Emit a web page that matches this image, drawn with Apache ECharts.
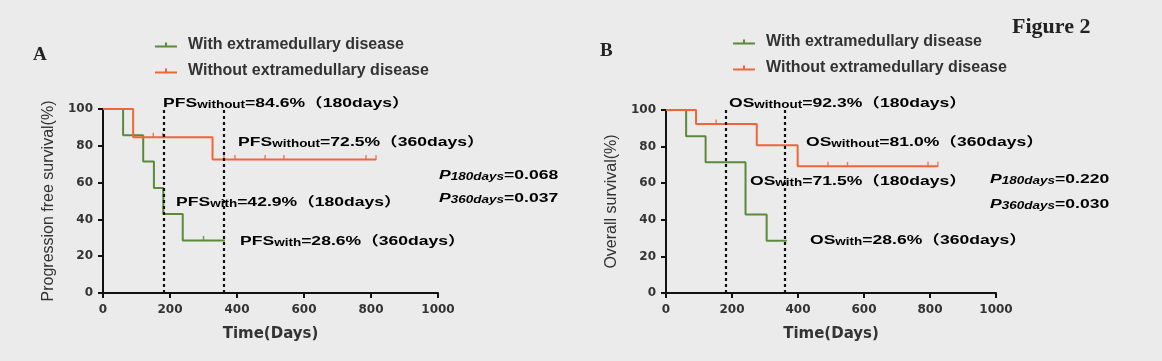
<!DOCTYPE html>
<html><head><meta charset="utf-8">
<script src="https://cdn.jsdelivr.net/npm/echarts@6/dist/echarts.min.js"></script>
<style>html,body{margin:0;padding:0;background:#ebebeb;}#c{width:1162px;height:361px;}</style>
</head><body><div id="c"></div>
<script>
// ---- Data ----
const seriesNames = ['With extramedullary disease', 'Without extramedullary disease'];
const xTicks = [0, 200, 400, 600, 800, 1000];
const yTicks = [0, 20, 40, 60, 80, 100];
const landmarkDays = [180, 360];

// Panel A: progression free survival
const pfsWithTimes = [0, 60, 120, 152, 180, 238, 364];
const pfsWithValues = [100, 85.7, 71.4, 57.1, 42.9, 28.6, 28.6];
const pfsWithCensorTimes = [300];
const pfsWithCensorValues = [28.6];
const pfsWithoutTimes = [0, 90, 327, 815];
const pfsWithoutValues = [100, 84.6, 72.5, 72.5];
const pfsWithoutCensorTimes = [150, 178, 361, 394, 484, 540, 785, 815];
const pfsWithoutCensorValues = [84.6, 84.6, 72.5, 72.5, 72.5, 72.5, 72.5, 72.5];

// Panel B: overall survival
const osWithTimes = [0, 61, 120, 241, 305, 366];
const osWithValues = [100, 85.7, 71.4, 42.9, 28.6, 28.6];
const osWithCensorTimes = [];
const osWithCensorValues = [];
const osWithoutTimes = [0, 91, 275, 399, 824];
const osWithoutValues = [100, 92.3, 80.8, 69.2, 69.2];
const osWithoutCensorTimes = [152, 491, 550, 794, 824];
const osWithoutCensorValues = [92.3, 69.2, 69.2, 69.2, 69.2];

// annotation texts
const pfsLabels = [
  ['PFS', 'without', '=84.6%（180days）'],
  ['PFS', 'without', '=72.5%（360days）'],
  ['PFS', 'with', '=42.9%（180days）'],
  ['PFS', 'with', '=28.6%（360days）']
];
const osLabels = [
  ['OS', 'without', '=92.3%（180days）'],
  ['OS', 'without', '=81.0%（360days）'],
  ['OS', 'with', '=71.5%（180days）'],
  ['OS', 'with', '=28.6%（360days）']
];
const pfsPValues = [['180days', '=0.068'], ['360days', '=0.037']];
const osPValues = [['180days', '=0.220'], ['360days', '=0.030']];

// ---- Styles ----
const GREEN = '#5a8a3a';
const RED = '#f0653a';
const FONT = '"Liberation Sans", Arial, "Noto Sans CJK SC", sans-serif';
const WIDE = '"DejaVu Sans", Verdana, sans-serif';
const SERIF = '"Liberation Serif", "Times New Roman", serif';
const STRETCH = 1.35;
const zip = (a, b) => a.map((v, i) => [v, b[i]]);

function axisPair(gi, yName) {
  const common = {
    gridIndex: gi, type: 'value', min: 0,
    axisLine: { show: true, lineStyle: { color: '#111', width: 2 } },
    axisTick: { show: true, inside: false, length: 5, lineStyle: { color: '#111', width: 2 } },
    splitLine: { show: false },
    axisLabel: { color: '#333', fontFamily: WIDE, fontWeight: 'bold', fontSize: 12, formatter: v => String(v) }
  };
  return {
    x: Object.assign({}, common, { max: 1000, interval: 200, name: 'Time(Days)', nameLocation: 'middle', nameGap: 34,
      axisLabel: Object.assign({}, common.axisLabel, { margin: 11 }),
      nameTextStyle: { color: '#333', fontFamily: WIDE, fontWeight: 'bold', fontSize: 15 } }),
    y: Object.assign({}, common, { max: 100, interval: 20, name: yName, nameLocation: 'middle', nameGap: 46, nameRotate: 90,
      axisLabel: Object.assign({}, common.axisLabel, { margin: 10 }),
      nameTextStyle: { color: '#333', fontFamily: FONT, fontSize: 16 } })
  };
}
const axA = axisPair(0, 'Progression free survival(%)');
const axB = axisPair(1, 'Overall survival(%)');

function kmSeries(name, gi, times, values, color) {
  return {
    name, type: 'line', xAxisIndex: gi, yAxisIndex: gi, step: 'end',
    data: zip(times, values), showSymbol: false, symbol: 'none',
    lineStyle: { color, width: 2 }, itemStyle: { color }, z: 3, silent: true
  };
}
function censorSeries(name, gi, times, values, color) {
  return {
    name, type: 'scatter', xAxisIndex: gi, yAxisIndex: gi,
    data: zip(times, values), symbol: 'rect', symbolSize: [1.5, 5], symbolOffset: [0, -2],
    itemStyle: { color }, z: 4, silent: true
  };
}
function landmarkSeries(gi) {
  return {
    type: 'line', xAxisIndex: gi, yAxisIndex: gi, data: [], silent: true,
    markLine: {
      symbol: 'none', silent: true, label: { show: false },
      lineStyle: { color: '#111', type: [3, 3], width: 2.2 },
      data: landmarkDays.map(d => [{ coord: [d, 0] }, { coord: [d, 100] }])
    }
  };
}

const rich = {
  m: { fontFamily: FONT, fontWeight: 'bold', fontSize: 13, color: '#333', lineHeight: 16 },
  s: { fontFamily: FONT, fontWeight: 'bold', fontSize: 10, color: '#333', lineHeight: 16, padding: [4, 0, 0, 0] },
  pm: { fontFamily: FONT, fontWeight: 'bold', fontStyle: 'italic', fontSize: 13, color: '#333', lineHeight: 16 },
  ps: { fontFamily: FONT, fontWeight: 'bold', fontStyle: 'italic', fontSize: 10, color: '#333', lineHeight: 16, padding: [4, 0, 0, 0] }
};
function annText(parts, x, y) {
  return { type: 'text', x: x, y: y, scaleX: STRETCH, z: 10,
    style: { text: '{m|' + parts[0] + '}{s|' + parts[1] + '}{m|' + parts[2] + '}', rich, verticalAlign: 'middle' } };
}
function pText(parts, x, y) {
  return { type: 'text', x: x, y: y, scaleX: STRETCH, z: 10,
    style: { text: '{pm|P}{ps|' + parts[0] + '}{m|' + parts[1] + '}', rich, verticalAlign: 'middle' } };
}

const legendCommon = {
  orient: 'vertical', itemWidth: 22, itemHeight: 8, itemGap: 10, padding: 0,
  icon: 'path://M0,3h22v2h-22z M10,0h2v3h-2z',
  textStyle: { fontFamily: FONT, fontSize: 16, fontWeight: 'bold', color: '#333', padding: [0, 0, 0, 6] },
  data: seriesNames, selectedMode: false
};

const option = {
  backgroundColor: '#ebebeb',
  animation: false,
  legend: [
    Object.assign({}, legendCommon, { left: 155, top: 37 }),
    Object.assign({}, legendCommon, { left: 733, top: 34 })
  ],
  grid: [
    { left: 103, right: 724, top: 109, bottom: 68 },
    { left: 666, right: 166, top: 110, bottom: 68 }
  ],
  xAxis: [axA.x, axB.x],
  yAxis: [axA.y, axB.y],
  series: [
    landmarkSeries(0),
    kmSeries(seriesNames[0], 0, pfsWithTimes, pfsWithValues, GREEN),
    kmSeries(seriesNames[1], 0, pfsWithoutTimes, pfsWithoutValues, RED),
    censorSeries(seriesNames[0], 0, pfsWithCensorTimes, pfsWithCensorValues, GREEN),
    censorSeries(seriesNames[1], 0, pfsWithoutCensorTimes, pfsWithoutCensorValues, RED),
    landmarkSeries(1),
    kmSeries(seriesNames[0], 1, osWithTimes, osWithValues, GREEN),
    kmSeries(seriesNames[1], 1, osWithoutTimes, osWithoutValues, RED),
    censorSeries(seriesNames[0], 1, osWithCensorTimes, osWithCensorValues, GREEN),
    censorSeries(seriesNames[1], 1, osWithoutCensorTimes, osWithoutCensorValues, RED)
  ],
  graphic: [
    { type: 'text', left: 33, top: 46, style: { text: 'A', font: 'bold 19px ' + SERIF, fill: '#222' } },
    { type: 'text', left: 600, top: 42, style: { text: 'B', font: 'bold 19px ' + SERIF, fill: '#222' } },
    { type: 'text', left: 1012, top: 16, style: { text: 'Figure 2', font: 'bold 22px ' + SERIF, fill: '#222' } },
    annText(pfsLabels[0], 163, 103),
    annText(pfsLabels[1], 238, 142),
    annText(pfsLabels[2], 176, 202),
    annText(pfsLabels[3], 240, 241),
    pText(pfsPValues[0], 439, 175),
    pText(pfsPValues[1], 439, 198),
    annText(osLabels[0], 729, 103),
    annText(osLabels[1], 806, 142),
    annText(osLabels[2], 750, 181),
    annText(osLabels[3], 810, 240),
    pText(osPValues[0], 990, 179),
    pText(osPValues[1], 990, 204)
  ]
};
const chart = echarts.init(document.getElementById('c'), null, { renderer: 'canvas' });
chart.setOption(option);
</script></body></html>
